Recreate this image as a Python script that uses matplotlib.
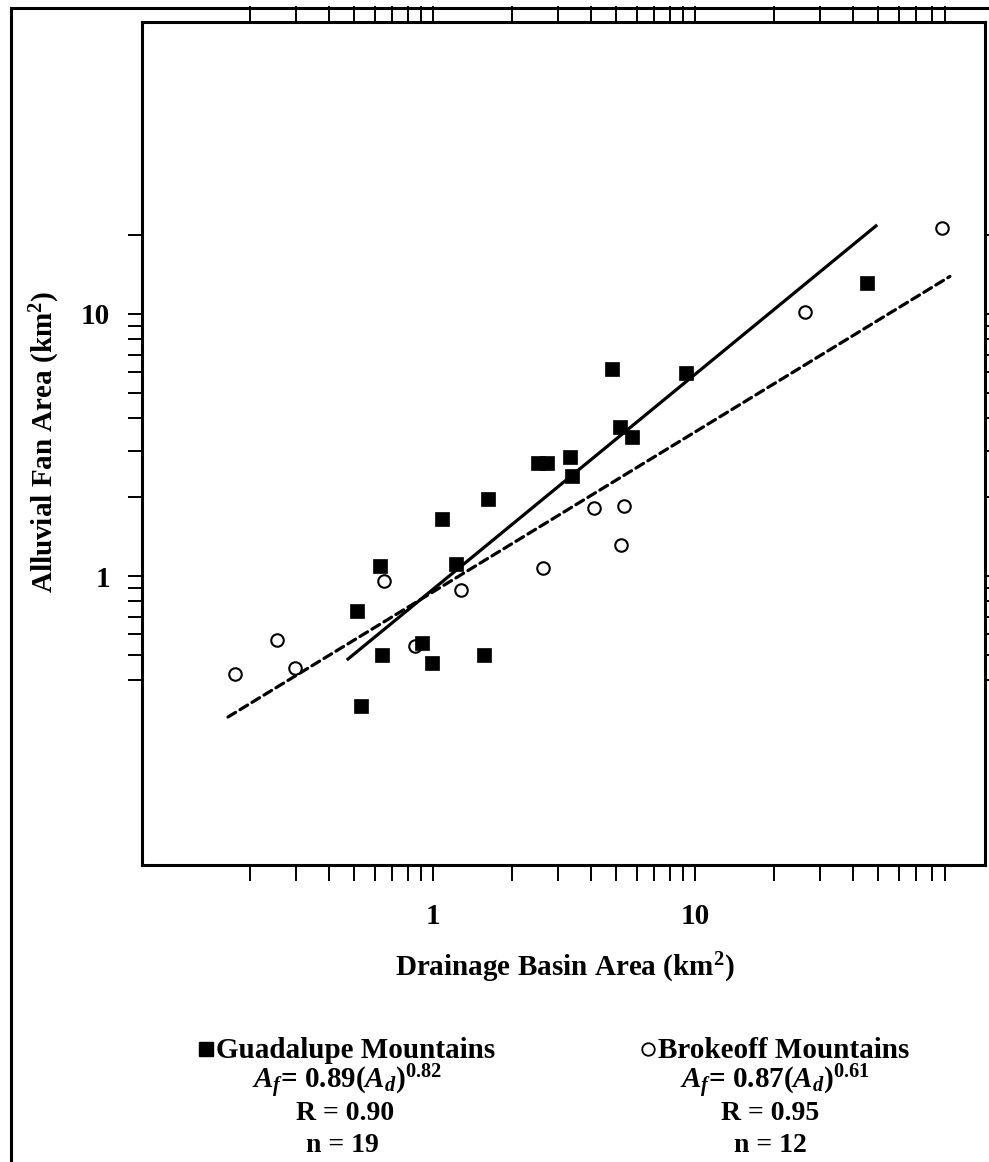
import numpy as np
import matplotlib
matplotlib.use('Agg')
import matplotlib.pyplot as plt
from matplotlib.lines import Line2D
from matplotlib.ticker import FixedLocator, NullFormatter, FixedFormatter

plt.rcParams['font.family'] = ['Liberation Serif', 'DejaVu Serif']
plt.rcParams['font.weight'] = 'bold'
plt.rcParams['mathtext.fontset'] = 'custom'
plt.rcParams['mathtext.rm'] = 'Liberation Serif:bold'
plt.rcParams['mathtext.it'] = 'Liberation Serif:italic:bold'
plt.rcParams['mathtext.bf'] = 'Liberation Serif:bold'

# ---------------- data ----------------
guad_x = [0.513, 0.531, 0.628, 0.639, 0.908, 0.99, 1.08, 1.224, 1.566, 1.62,
          2.52, 2.72, 3.33, 3.39, 4.82, 5.17, 5.75, 9.24, 45.3]
guad_y = [0.735, 0.319, 1.09, 0.499, 0.555, 0.466, 1.65, 1.11, 0.499, 1.97,
          2.70, 2.70, 2.85, 2.41, 6.17, 3.70, 3.39, 5.95, 13.1]
brok_x = [0.175, 0.254, 0.297, 0.650, 0.854, 1.28, 2.63, 4.12, 5.36, 5.22, 26.3, 87.7]
brok_y = [0.423, 0.570, 0.446, 0.957, 0.541, 0.884, 1.073, 1.82, 1.85, 1.31, 10.2, 21.3]

guad_coef, guad_exp = 0.89, 0.82
guad_fit_range = (0.474, 49.1)
brok_coef, brok_exp = 0.87, 0.61
brok_fit_range = (0.165, 94.0)

major_ticks = [1, 10]
major_labels = ['1', '10']
x_minor_ticks = [0.2, 0.3, 0.4, 0.5, 0.6, 0.7, 0.8, 0.9,
                 2, 3, 4, 5, 6, 7, 8, 9, 20, 30, 40, 50, 60, 70, 80, 90]
y_minor_ticks = [0.4, 0.5, 0.6, 0.7, 0.8, 0.9, 2, 3, 4, 5, 6, 7, 8, 9, 20]
right_ticks = [0.4, 0.5, 0.6, 0.7, 0.8, 0.9, 1, 2, 3, 4, 5, 6, 7, 8, 9, 10, 20]

xlabel = 'Drainage Basin Area (km$^{2}$)'
ylabel = 'Alluvial Fan Area (km$^{2}$)'
guad_name = 'Guadalupe Mountains'
brok_name = 'Brokeoff Mountains'
guad_eq = r'$A_f$= 0.89($A_d$)$^{0.82}$'
brok_eq = r'$A_f$= 0.87($A_d$)$^{0.61}$'
guad_r, guad_n = 'R = 0.90', 'n = 19'
brok_r, brok_n = 'R = 0.95', 'n = 12'

# ---------------- figure ----------------
W, H = 989, 1162
fig = plt.figure(figsize=(W / 100, H / 100), dpi=100)
ax = fig.add_axes([142 / W, 1 - 865 / H, (985 - 142) / W, (865 - 22) / H])
ax.set_xscale('log')
ax.set_yscale('log')
ax.set_xlim(0.0775, 128)
ax.set_ylim(0.079, 130)

# fit lines
gx = np.geomspace(*guad_fit_range, 60)
ax.plot(gx, guad_coef * gx ** guad_exp, color='black', lw=2.3, zorder=2)
bx = np.geomspace(*brok_fit_range, 60)
ax.plot(bx, brok_coef * bx ** brok_exp, color='black', lw=2.3,
        linestyle=(0, (2.8, 1.6)), dash_capstyle='round', zorder=2)

# points
ax.plot(brok_x, brok_y, linestyle='none', marker='o', markersize=9.0,
        markerfacecolor='white', markeredgecolor='black', markeredgewidth=1.5, zorder=3)
ax.plot(guad_x, guad_y, linestyle='none', marker='s', markersize=10.5,
        markerfacecolor='black', markeredgecolor='black', markeredgewidth=0.5, zorder=4)

for s in ax.spines.values():
    s.set_linewidth(2.2)

ax.xaxis.set_major_locator(FixedLocator(major_ticks))
ax.xaxis.set_major_formatter(FixedFormatter(major_labels))
ax.xaxis.set_minor_locator(FixedLocator(x_minor_ticks))
ax.xaxis.set_minor_formatter(NullFormatter())
ax.yaxis.set_major_locator(FixedLocator(major_ticks))
ax.yaxis.set_major_formatter(FixedFormatter(major_labels))
ax.yaxis.set_minor_locator(FixedLocator(y_minor_ticks))
ax.yaxis.set_minor_formatter(NullFormatter())

ax.tick_params(axis='x', which='both', direction='out', length=11.5, width=1.4,
               top=True, bottom=True, labelsize=21, pad=16)
ax.tick_params(axis='y', which='both', direction='out', length=10, width=1.4,
               left=True, right=False, labelsize=21, pad=13)

# right-hand ticks (partially cut by the image edge)
ax2 = ax.twinx()
ax2.set_yscale('log')
ax2.set_ylim(ax.get_ylim())
ax2.yaxis.set_major_locator(FixedLocator(right_ticks))
ax2.yaxis.set_minor_locator(FixedLocator([]))
ax2.yaxis.set_major_formatter(NullFormatter())
ax2.tick_params(axis='y', which='both', direction='out', length=10, width=1.4,
                right=True, labelright=False)
for s in ax2.spines.values():
    s.set_visible(False)

# axis titles
fig.text(565 / W, 1 - 968 / H, xlabel, ha='center', va='center', fontsize=21, fontweight='bold')
fig.text(45 / W, 1 - 442 / H, ylabel, ha='center', va='center', fontsize=21,
         fontweight='bold', rotation=90)

# outer frame (partially cropped)
fy = 1 - 7.5 / H
fx = 11 / W
fig.add_artist(Line2D([fx, 1.02], [fy, fy], color='black', lw=2.2, transform=fig.transFigure))
fig.add_artist(Line2D([fx, fx], [fy, -0.02], color='black', lw=2.2, transform=fig.transFigure))

# legend block
fig.add_artist(Line2D([206 / W], [1 - 1049 / H], marker='s', markersize=10.5, color='black',
                      transform=fig.transFigure))
fig.text(216 / W, 1 - 1050 / H, guad_name, ha='left', va='center', fontsize=21, fontweight='bold')
fig.text(347 / W, 1 - 1082 / H, guad_eq, ha='center', va='center', fontsize=21)
fig.text(345 / W, 1 - 1113 / H, guad_r, ha='center', va='center', fontsize=20, fontweight='bold')
fig.text(342 / W, 1 - 1146 / H, guad_n, ha='center', va='center', fontsize=20, fontweight='bold')

fig.add_artist(Line2D([648 / W], [1 - 1049 / H], marker='o', markersize=9, markerfacecolor='white',
                      markeredgecolor='black', markeredgewidth=1.3, transform=fig.transFigure))
fig.text(658 / W, 1 - 1050 / H, brok_name, ha='left', va='center', fontsize=21, fontweight='bold')
fig.text(775 / W, 1 - 1082 / H, brok_eq, ha='center', va='center', fontsize=21)
fig.text(770 / W, 1 - 1113 / H, brok_r, ha='center', va='center', fontsize=20, fontweight='bold')
fig.text(770 / W, 1 - 1146 / H, brok_n, ha='center', va='center', fontsize=20, fontweight='bold')

fig.savefig('out.png', dpi=100)
